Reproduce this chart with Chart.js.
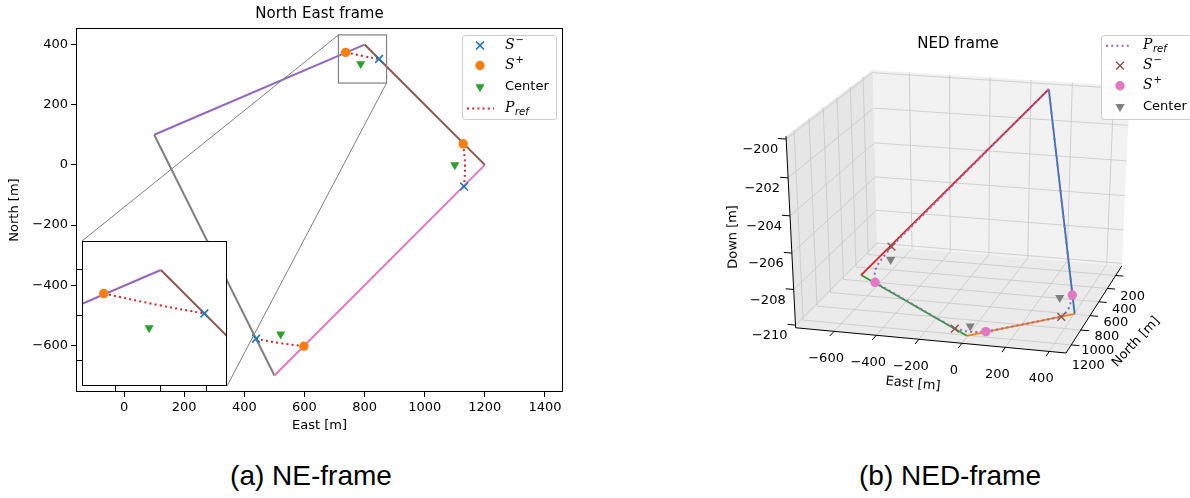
<!DOCTYPE html>
<html>
<head>
<meta charset="utf-8">
<title>NE and NED frames</title>
<script src="https://cdn.jsdelivr.net/npm/chart.js@4.4.1/dist/chart.umd.min.js"></script>
<style>
  html, body { margin: 0; padding: 0; background: #fff; }
  body { position: relative; width: 1190px; height: 498px; overflow: hidden; }
  canvas { position: absolute; display: block; }
  .caption { position: absolute; top: 459px; width: 400px; text-align: center;
             font: 28px "Liberation Sans", Arial, sans-serif; line-height: 34px; color: #000; }
</style>
</head>
<body>
<canvas id="ne" width="590" height="440" style="left:0;top:0"></canvas>
<canvas id="inset" width="150" height="150"></canvas>
<canvas id="ned" width="590" height="440" style="left:600px;top:0"></canvas>
<div class="caption" style="left:111px">(a) NE-frame</div>
<div class="caption" style="left:750px">(b) NED-frame</div>
<script>
// ---------- NE frame (left) ----------
const neTicksEast = [0, 200, 400, 600, 800, 1000, 1200, 1400];
const neTicksNorth = [-600, -400, -200, 0, 200, 400];
const nePathEast = [100, 800, 1200, 500];
const nePathNorth = [100, 400, 0, -700];
const neSMinusEast = [848, 1131, 439];
const neSMinusNorth = [352, -72, -578];
const neSPlusEast = [737, 1128, 598];
const neSPlusNorth = [374, 70, -603];
const neCenterEast = [787, 1100, 521];
const neCenterNorth = [336, 0, -563];
const neArcMidEast = [799, 1134, 515];
const neArcMidNorth = [361, 0, -592];
// zoomed region shown in the inset
const insetEast = [713, 873];
const insetNorth = [272, 432];
const insetTicksEast = [750, 800, 850];
const insetTicksNorth = [300, 350, 400];

// ---------- NED frame (right) ----------
const nedTicksNorth = [200, 400, 600, 800, 1000, 1200];
const nedTicksEast = [-600, -400, -200, 0, 200, 400];
const nedTicksDown = [-210, -208, -206, -204, -202, -200];
const nedLimNorth = [48, 1306];
const nedLimEast = [-784, 476];
const nedLimDown = [-210.15, -199.85];
// path corners A, B, C, D
const nedPathNorth = [150, 550, 1240, 830];
const nedPathEast = [110, -710, 5, 410];
const nedPathDown = [-200, -210, -210, -210];
const nedSMinusNorth = [466, 885, 1163];
const nedSMinusEast = [-579, 359, -72];
const nedSMinusDown = [-208.5, -210, -210];
const nedSPlusNorth = [638, 791, 1166];
const nedSPlusEast = [-612, 388, 74];
const nedSPlusDown = [-210, -209.1, -210];
const nedCenterNorth = [535, 818, 1113];
const nedCenterEast = [-563, 335, -13];
const nedCenterDown = [-209, -209.2, -210];
const nedArcMidNorth = [560, 840, 1185];
const nedArcMidEast = [-631, 382, 2];
const nedArcMidDown = [-209.5, -209.7, -210];

const neSegColors = ['#9467bd', '#8c564b', '#e377c2', '#7f7f7f'];
const nedSegColors = ['#d62728', '#2ca02c', '#ff7f0e', '#1f77b4'];

Chart.defaults.font.family = '"DejaVu Sans", sans-serif';
Chart.defaults.font.size = 13;
Chart.defaults.color = '#000';
Chart.defaults.animation = false;
Chart.defaults.events = [];
Chart.defaults.plugins.legend.display = false;
Chart.defaults.plugins.tooltip.enabled = false;

const FONT = '"DejaVu Sans", sans-serif';
const fmt = v => String(v).replace('-', '\u2212');
const pts = (xs, ys) => xs.map((x, i) => ({x: x, y: ys[i]}));

const markerStyle = {
  x: {pointStyle: 'crossRot', radius: 5.5, borderWidth: 1.5, rotation: 0},
  o: {pointStyle: 'circle', radius: 4.7, borderWidth: 0, rotation: 0},
  v: {pointStyle: 'triangle', radius: 5.3, borderWidth: 0, rotation: 180}
};

function markerDs(data, kind, color) {
  const m = markerStyle[kind];
  return {data: data, showLine: false, order: 0,
    pointStyle: m.pointStyle, pointRadius: m.radius, pointBorderWidth: m.borderWidth,
    pointRotation: m.rotation, pointBorderColor: color, pointBackgroundColor: color};
}
function lineDs(data, color, width, dotted, order, tension) {
  return {data: data, showLine: true, borderColor: color, borderWidth: width,
    borderDash: dotted ? [2, 3.2] : [], borderCapStyle: 'butt', pointRadius: 0,
    order: order, tension: tension || 0, fill: false};
}

function neDatasets() {
  const ds = [
    markerDs(pts(neSMinusEast, neSMinusNorth), 'x', '#1f77b4'),
    markerDs(pts(neSPlusEast, neSPlusNorth), 'o', '#ff7f0e'),
    markerDs(pts(neCenterEast, neCenterNorth), 'v', '#2ca02c')
  ];
  // dotted reference path through the turns
  neArcMidEast.forEach((m, k) => {
    const arc = [{x: neSPlusEast[k], y: neSPlusNorth[k]}, {x: m, y: neArcMidNorth[k]},
                 {x: neSMinusEast[k], y: neSMinusNorth[k]}];
    ds.push(lineDs(arc, '#d62728', 2, true, 1, 0.4));
  });
  nePathEast.forEach((e, i) => {
    const j = (i + 1) % nePathEast.length;
    const seg = [{x: e, y: nePathNorth[i]}, {x: nePathEast[j], y: nePathNorth[j]}];
    ds.push(lineDs(seg, neSegColors[i], 2, false, 2));
  });
  return ds;
}

function axisOpts(min, max, ticks, showLabels, fitSize) {
  return {
    type: 'linear', min: min, max: max,
    afterBuildTicks: s => { s.ticks = ticks.map(v => ({value: v})); },
    afterFit: s => { if (fitSize) { if (s.isHorizontal()) s.height = fitSize; else s.width = fitSize; } },
    grid: {display: true, drawOnChartArea: false, drawTicks: true, tickLength: 5,
           lineWidth: 1, tickColor: '#000', color: '#000'},
    border: {display: false},
    ticks: {display: showLabels, padding: 3, autoSkip: false, maxRotation: 0, color: '#000',
            font: {size: 13}, callback: v => fmt(v)}
  };
}

function drawLabel(ctx, label, x, y) {
  ctx.fillStyle = '#000';
  ctx.textAlign = 'left';
  ctx.textBaseline = 'middle';
  if (label === 'Center') {
    ctx.font = '13px ' + FONT;
    ctx.fillText('Center', x, y);
    return;
  }
  ctx.font = 'italic 14px "DejaVu Serif", serif';
  ctx.fillText(label[0], x, y);
  const w = ctx.measureText(label[0]).width;
  if (label === 'Pref') {
    ctx.font = 'italic 10px ' + FONT;
    ctx.fillText('ref', x + w + 0.5, y + 4);
  } else {
    ctx.font = '10px ' + FONT;
    ctx.fillText(label[1] === '-' ? '\u2212' : '+', x + w + 1, y - 5);
  }
}

function drawLegend(ctx, box, entries, rowsY, markX, lineX0, lineX1, textX) {
  ctx.save();
  ctx.beginPath();
  ctx.roundRect(box.x + 0.5, box.y + 0.5, box.w, box.h, 3);
  ctx.fillStyle = 'rgba(255,255,255,0.85)';
  ctx.fill();
  ctx.strokeStyle = '#cccccc';
  ctx.lineWidth = 1;
  ctx.stroke();
  entries.forEach((en, i) => {
    const yy = rowsY[i];
    if (en.kind === 'dot') {
      ctx.save();
      ctx.strokeStyle = en.color;
      ctx.lineWidth = 2;
      ctx.setLineDash([2, 3.2]);
      ctx.beginPath();
      ctx.moveTo(lineX0, yy);
      ctx.lineTo(lineX1, yy);
      ctx.stroke();
      ctx.restore();
    } else {
      const m = markerStyle[en.kind];
      ctx.fillStyle = en.color;
      ctx.strokeStyle = en.color;
      ctx.lineWidth = m.borderWidth;
      Chart.helpers.drawPoint(ctx, m, markX, yy);
    }
    drawLabel(ctx, en.label, textX, yy);
  });
  ctx.restore();
}

let insetBox = null;

const neDecor = {
  id: 'neDecor',
  afterDatasetsDraw(chart) {
    const {ctx, chartArea: a, scales: {x, y}} = chart;
    ctx.save();
    // zoom indicator and connectors
    const rx0 = x.getPixelForValue(insetEast[0]), rx1 = x.getPixelForValue(insetEast[1]);
    const ry0 = y.getPixelForValue(insetNorth[1]), ry1 = y.getPixelForValue(insetNorth[0]);
    ctx.strokeStyle = '#808080';
    ctx.lineWidth = 1.2;
    ctx.strokeRect(rx0, ry0, rx1 - rx0, ry1 - ry0);
    if (insetBox) {
      ctx.lineWidth = 1;
      ctx.beginPath();
      ctx.moveTo(insetBox.left, insetBox.top);
      ctx.lineTo(rx0, ry0);
      ctx.moveTo(insetBox.right, insetBox.bottom);
      ctx.lineTo(rx1, ry1);
      ctx.stroke();
    }
    // axes frame
    ctx.strokeStyle = '#000';
    ctx.lineWidth = 1;
    ctx.strokeRect(Math.round(a.left) + 0.5, Math.round(a.top) + 0.5,
                   Math.round(a.width) - 1, Math.round(a.height) - 1);
    // titles
    ctx.fillStyle = '#000';
    ctx.textAlign = 'center';
    ctx.textBaseline = 'middle';
    ctx.font = '15px ' + FONT;
    ctx.fillText('North East frame', (a.left + a.right) / 2, 14);
    ctx.font = '13px ' + FONT;
    ctx.fillText('East [m]', (a.left + a.right) / 2, 426);
    ctx.save();
    ctx.translate(15, (a.top + a.bottom) / 2);
    ctx.rotate(-Math.PI / 2);
    ctx.fillText('North [m]', 0, 0);
    ctx.restore();
    ctx.restore();
    drawLegend(ctx, {x: a.right - 101, y: a.top + 7, w: 94, h: 84}, [
      {kind: 'x', color: '#1f77b4', label: 'S-'},
      {kind: 'o', color: '#ff7f0e', label: 'S+'},
      {kind: 'v', color: '#2ca02c', label: 'Center'},
      {kind: 'dot', color: '#d62728', label: 'Pref'}
    ], [45.5, 65.5, 87, 108.5], a.right - 83, a.right - 96, a.right - 69, a.right - 58);
  }
};

const neChart = new Chart(document.getElementById('ne'), {
  type: 'scatter',
  data: {datasets: neDatasets()},
  options: {
    responsive: false,
    layout: {padding: {top: 28, right: 27, left: 0, bottom: 0}},
    scales: {
      x: axisOpts(-160, 1460, neTicksEast, true, 48),
      y: axisOpts(-755, 455, neTicksNorth, true, 76)
    }
  },
  plugins: [neDecor]
});

// ---------- inset ----------
const insetDecor = {
  id: 'insetDecor',
  beforeDatasetsDraw(chart) {
    const {ctx, chartArea: a} = chart;
    ctx.save();
    ctx.fillStyle = '#fff';
    ctx.fillRect(a.left, a.top, a.width, a.height);
    ctx.restore();
  },
  afterDatasetsDraw(chart) {
    const {ctx, chartArea: a} = chart;
    ctx.save();
    ctx.strokeStyle = '#000';
    ctx.lineWidth = 1;
    ctx.strokeRect(Math.round(a.left) + 0.5, Math.round(a.top) + 0.5,
                   Math.round(a.width) - 1, Math.round(a.height) - 1);
    ctx.restore();
  }
};
const insetSize = 145;
const insetCanvas = document.getElementById('inset');
const insetChart = new Chart(insetCanvas, {
  type: 'scatter',
  data: {datasets: neDatasets().map(d => Object.assign(d, {clip: 0}))},
  options: {
    responsive: false,
    layout: {padding: 0},
    scales: {
      x: axisOpts(insetEast[0], insetEast[1], insetTicksEast, false, 5),
      y: axisOpts(insetNorth[0], insetNorth[1], insetTicksNorth, false, 5)
    }
  },
  plugins: [insetDecor]
});
(function placeInset() {
  let ia = insetChart.chartArea;
  for (let k = 0; k < 3 && (Math.abs(ia.width - insetSize) > 0.5 || Math.abs(ia.height - insetSize) > 0.5); k++) {
    insetChart.resize(Math.round(insetCanvas.width + insetSize - ia.width),
                      Math.round(insetCanvas.height + insetSize - ia.height));
    ia = insetChart.chartArea;
  }
  const ca = neChart.chartArea;
  const left = Math.round(ca.left + 6);
  const top = Math.round(ca.bottom - 6 - ia.height);
  insetCanvas.style.left = (left - ia.left) + 'px';
  insetCanvas.style.top = (top - ia.top) + 'px';
  insetBox = {left: left, top: top, right: left + ia.width, bottom: top + ia.height};
  neChart.draw();
})();

// ---------- NED frame, 3D projection ----------
const nedView = {elev: 24, azim: 15, dist: 8, zStretch: 1.04};
function project(n, e, d) {
  const px = (n - nedLimNorth[0]) / (nedLimNorth[1] - nedLimNorth[0]) - 0.5;
  const py = (e - nedLimEast[0]) / (nedLimEast[1] - nedLimEast[0]) - 0.5;
  const pz = ((d - nedLimDown[0]) / (nedLimDown[1] - nedLimDown[0]) - 0.5) * nedView.zStretch;
  const el = nedView.elev * Math.PI / 180, az = nedView.azim * Math.PI / 180;
  const dx = Math.cos(el) * Math.cos(az), dy = Math.cos(el) * Math.sin(az), dz = Math.sin(el);
  const rx = -Math.sin(az), ry = Math.cos(az);
  const ux = -Math.sin(el) * Math.cos(az), uy = -Math.sin(el) * Math.sin(az), uz = Math.cos(el);
  const s = nedView.dist / (nedView.dist - (px * dx + py * dy + pz * dz));
  return {x: (px * rx + py * ry) * s, y: (px * ux + py * uy + pz * uz) * s};
}

// canvas pixels where the projected box should land
const nedFrame = {left: 186, right: 530, top: 70, bottom: 353};
const boxCorners = [];
nedLimNorth.forEach(n => nedLimEast.forEach(e => nedLimDown.forEach(d => boxCorners.push(project(n, e, d)))));
const bx0 = Math.min(...boxCorners.map(p => p.x)), bx1 = Math.max(...boxCorners.map(p => p.x));
const by0 = Math.min(...boxCorners.map(p => p.y)), by1 = Math.max(...boxCorners.map(p => p.y));

function fitNedScales(chart) {
  const a = chart.chartArea;
  const upx = (bx1 - bx0) / (nedFrame.right - nedFrame.left);
  const upy = (by1 - by0) / (nedFrame.bottom - nedFrame.top);
  const sx = chart.options.scales.x, sy = chart.options.scales.y;
  sx.min = bx0 - (nedFrame.left - a.left) * upx;
  sx.max = sx.min + a.width * upx;
  sy.max = by1 + (nedFrame.top - a.top) * upy;
  sy.min = sy.max - a.height * upy;
  chart.update('none');
}

const V = i => project(nedPathNorth[i], nedPathEast[i], nedPathDown[i]);
const SM = i => project(nedSMinusNorth[i], nedSMinusEast[i], nedSMinusDown[i]);
const SP = i => project(nedSPlusNorth[i], nedSPlusEast[i], nedSPlusDown[i]);
const MID = i => project(nedArcMidNorth[i], nedArcMidEast[i], nedArcMidDown[i]);

function nedDatasets() {
  const ds = [
    markerDs(nedSMinusNorth.map((_, i) => SM(i)), 'x', '#8c564b'),
    markerDs(nedSPlusNorth.map((_, i) => SP(i)), 'o', '#e377c2'),
    markerDs(nedCenterNorth.map((_, i) => project(nedCenterNorth[i], nedCenterEast[i], nedCenterDown[i])), 'v', '#7f7f7f')
  ];
  // reference path: straight legs and the three turns
  [[V(0), SM(0)], [SP(0), SM(2)], [SP(2), SM(1)], [SP(1), V(0)]].forEach(seg =>
    ds.push(lineDs(seg, '#9467bd', 2, true, 1)));
  nedArcMidNorth.forEach((_, k) => ds.push(lineDs([SM(k), MID(k), SP(k)], '#9467bd', 2, true, 1, 0.4)));
  nedPathNorth.forEach((_, i) => {
    const j = (i + 1) % nedPathNorth.length;
    ds.push(lineDs([V(i), V(j)], nedSegColors[i], 1.8, false, 2));
  });
  return ds;
}

const nedDecor = {
  id: 'nedDecor',
  beforeDatasetsDraw(chart) {
    const {ctx, scales: {x, y}} = chart;
    const P = (n, e, d) => { const p = project(n, e, d); return [x.getPixelForValue(p.x), y.getPixelForValue(p.y)]; };
    const poly = (list, fill) => {
      ctx.beginPath();
      list.forEach((p, i) => i ? ctx.lineTo(p[0], p[1]) : ctx.moveTo(p[0], p[1]));
      ctx.closePath();
      ctx.fillStyle = fill;
      ctx.fill();
    };
    const seg = (a, b, color, w) => {
      ctx.beginPath();
      ctx.moveTo(a[0], a[1]);
      ctx.lineTo(b[0], b[1]);
      ctx.strokeStyle = color;
      ctx.lineWidth = w;
      ctx.stroke();
    };
    const [n0, n1] = nedLimNorth, [e0, e1] = nedLimEast, [d0, d1] = nedLimDown;
    ctx.save();
    // panes
    poly([P(n0, e0, d0), P(n0, e1, d0), P(n0, e1, d1), P(n0, e0, d1)], '#f2f2f2');
    poly([P(n0, e0, d0), P(n1, e0, d0), P(n1, e0, d1), P(n0, e0, d1)], '#e6e6e6');
    poly([P(n0, e0, d0), P(n1, e0, d0), P(n1, e1, d0), P(n0, e1, d0)], '#ebebeb');
    // grid
    const gc = '#c6c6c6', gw = 0.8;
    nedTicksEast.forEach(v => { seg(P(n0, v, d0), P(n0, v, d1), gc, gw); seg(P(n0, v, d0), P(n1, v, d0), gc, gw); });
    nedTicksNorth.forEach(v => { seg(P(v, e0, d0), P(v, e0, d1), gc, gw); seg(P(v, e0, d0), P(v, e1, d0), gc, gw); });
    nedTicksDown.forEach(v => { seg(P(n0, e0, v), P(n0, e1, v), gc, gw); seg(P(n0, e0, v), P(n1, e0, v), gc, gw); });
    // axis lines
    seg(P(n1, e0, d0), P(n1, e0, d1), '#000', 1);
    seg(P(n1, e0, d0), P(n1, e1, d0), '#000', 1);
    seg(P(n0, e1, d0), P(n1, e1, d0), '#000', 1);
    // ticks and labels
    ctx.fillStyle = '#000';
    ctx.font = '13px ' + FONT;
    ctx.textBaseline = 'middle';
    ctx.textAlign = 'center';
    nedTicksEast.forEach(v => {
      const a = P(n1, v, d0);
      seg(a, P(n1 + 0.05 * (n1 - n0), v, d0), '#000', 1);
      ctx.fillText(fmt(v), a[0] - 8, a[1] + 27);
    });
    nedTicksNorth.forEach(v => {
      const a = P(v, e1, d0);
      seg(a, P(v, e1 + 0.03 * (e1 - e0), d0), '#000', 1);
      ctx.fillText(fmt(v), a[0] + 17, a[1] + 21);
    });
    ctx.textAlign = 'right';
    nedTicksDown.forEach(v => {
      const a = P(n1, e0, v);
      seg(a, P(n1, e0 - 0.03 * (e1 - e0), v), '#000', 1);
      ctx.fillText(fmt(v), a[0] - 8, a[1] + 11);
    });
    // axis titles
    ctx.textAlign = 'center';
    const rotText = (txt, cx, cy, deg) => {
      ctx.save();
      ctx.translate(cx, cy);
      ctx.rotate(deg * Math.PI / 180);
      ctx.fillText(txt, 0, 0);
      ctx.restore();
    };
    rotText('East [m]', 313, 384, 5.5);
    rotText('North [m]', 536, 342, -47);
    rotText('Down [m]', 133, 237, -91);
    ctx.restore();
  },
  afterDatasetsDraw(chart) {
    const {ctx} = chart;
    ctx.save();
    ctx.fillStyle = '#000';
    ctx.font = '15px ' + FONT;
    ctx.textAlign = 'center';
    ctx.textBaseline = 'middle';
    ctx.fillText('NED frame', 358, 44);
    ctx.restore();
    drawLegend(ctx, {x: 501, y: 35, w: 100, h: 84}, [
      {kind: 'dot', color: '#9467bd', label: 'Pref'},
      {kind: 'x', color: '#8c564b', label: 'S-'},
      {kind: 'o', color: '#e377c2', label: 'S+'},
      {kind: 'v', color: '#7f7f7f', label: 'Center'}
    ], [45.7, 65.7, 85.7, 106.7], 520, 506, 532, 543);
  }
};

const nedChart = new Chart(document.getElementById('ned'), {
  type: 'scatter',
  data: {datasets: nedDatasets()},
  options: {
    responsive: false,
    layout: {padding: 0},
    scales: {
      x: {type: 'linear', display: false, min: bx0, max: bx1},
      y: {type: 'linear', display: false, min: by0, max: by1}
    }
  },
  plugins: [nedDecor]
});
fitNedScales(nedChart);
</script>
</body>
</html>
